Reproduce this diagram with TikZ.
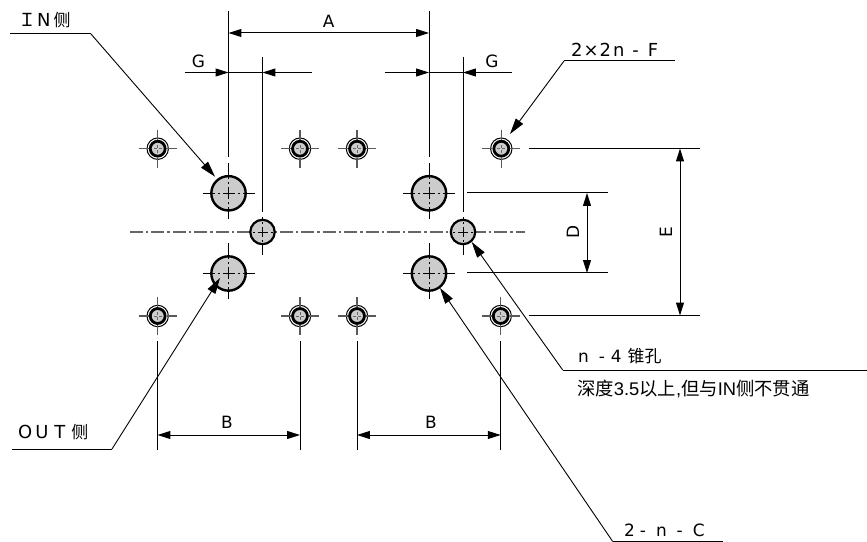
\documentclass[tikz,border=0pt]{standalone}
\usepackage{fontspec}
\setmainfont{DejaVu Sans}
\newfontfamily\cjk{Noto Sans CJK SC}
\newfontfamily\arialish{Liberation Sans}
\usetikzlibrary{arrows.meta,calc}
\tikzset{
  dim/.style={line width=1bp,{Triangle[length=13pt,width=8pt]}-{Triangle[length=13pt,width=8pt]}},
  onetip/.style={line width=1bp,-{Triangle[length=13pt,width=8pt]}},
  leader/.style={line width=0.9bp,-{Triangle[length=16pt,width=9pt]}},
  ext/.style={line width=1bp},
  shelf/.style={line width=1bp},
  cl/.style={line width=0.9bp},
  mainaxis/.style={line width=1.5bp,color=black!60,dash pattern=on 13pt off 3pt on 2.5pt off 3pt},
  lbl/.style={inner sep=0pt,font=\fontsize{17}{19}\selectfont},
  tlbl/.style={inner sep=0pt,anchor=west,font=\fontsize{18}{20}\selectfont},
  bighole/.style={circle,draw,line width=2.4pt,fill=black!20,minimum size=34.5pt,inner sep=0pt},
  midhole/.style={circle,draw,line width=2.2pt,fill=black!20,minimum size=24.5pt,inner sep=0pt},
  smallouter/.style={circle,draw,line width=1bp,fill=white,minimum size=21.5pt,inner sep=0pt},
  smallinner/.style={circle,draw,line width=2.8pt,fill=black!20,minimum size=15pt,inner sep=0pt},
}
\newcommand{\holecross}[2]{%
  \foreach \sx/\sy in {1/0,-1/0,0/1}{
    \draw[cl] ($(#1)+(\sx*#2,\sy*#2)$) -- ($(#1)+(\sx*14,\sy*14)$);
    \draw[cl] ($(#1)+(\sx*11,\sy*11)$) -- ($(#1)+(\sx*9,\sy*9)$);
    \draw[cl] (#1) -- ($(#1)+(\sx*6,\sy*6)$);
  }
  \draw[cl] ($(#1)+(0,-30)$) -- ($(#1)+(0,-14)$);
  \draw[cl] ($(#1)+(0,-11)$) -- ($(#1)+(0,-9)$);
  \draw[cl] (#1) -- ($(#1)+(0,-6)$);
}
\newcommand{\midcross}[1]{%
  \foreach \sx/\sy in {1/0,-1/0,0/1,0/-1}{
    \draw[cl] (#1) -- ($(#1)+(\sx*5,\sy*5)$);
    \draw[cl] ($(#1)+(\sx*8,\sy*8)$) -- ($(#1)+(\sx*10,\sy*10)$);
  }}
\newcommand{\smallcross}[1]{%
  \foreach \sx/\sy in {1/0,-1/0,0/1,0/-1}{
    \draw[line width=1.2bp,black!65] ($(#1)+(\sx*19,\sy*19)$) -- ($(#1)+(\sx*9,\sy*9)$);
    \draw[line width=0.7bp,black!60] ($(#1)+(\sx*1,\sy*1)$) -- ($(#1)+(\sx*4,\sy*4)$);
  }}
\begin{document}
\begin{tikzpicture}[x=1bp,y=-1bp]
\useasboundingbox (0,0) rectangle (867,542);
% reference points
\coordinate (cA) at (228.5,193.3);
\coordinate (cB) at (429,193.3);
\coordinate (cC) at (228.5,273.5);
\coordinate (cD) at (429,273.5);
\coordinate (mL) at (262.5,232);
\coordinate (mR) at (463,232);
\coordinate (s1) at (157.7,148.7);
\coordinate (s2) at (300,148.7);
\coordinate (s3) at (357,148.7);
\coordinate (s4) at (501.3,148.7);
\coordinate (s5) at (157.7,316);
\coordinate (s6) at (300,316);
\coordinate (s7) at (357,316);
\coordinate (s8) at (500.7,316);
% main axis
\coordinate (axL) at (130,232);
\coordinate (axR) at (525,232);
\draw[mainaxis] (axL) -- (axR);
% extension lines
\coordinate (a1) at (228.5,11);
\coordinate (a1b) at (228.5,157);
\coordinate (a2) at (429,11);
\coordinate (a2b) at (429,157);
\coordinate (g1) at (262.5,57);
\coordinate (g1b) at (262.5,212.5);
\coordinate (g2) at (463,57);
\coordinate (g2b) at (463,212.5);
\draw[ext] (a1) -- (a1b);
\draw[ext] (a2) -- (a2b);
\draw[ext] (g1) -- (g1b);
\draw[ext] (g2) -- (g2b);
% holes
\foreach \n/\p in {hA/cA,hB/cB,hC/cC,hD/cD}{
  \node[bighole] (\n) at (\p) {};
  \holecross{\p}{26}
}
\foreach \n/\p in {hL/mL,hR/mR}{
  \draw[cl] ($(\p)+(0,-15)$) -- ($(\p)+(0,23.5)$);
  \node[midhole] (\n) at (\p) {};
  \midcross{\p}
}
\foreach \n/\p in {h1/s1,h2/s2,h3/s3,h4/s4,h5/s5,h6/s6,h7/s7,h8/s8}{
  \node[smallouter] (\n o) at (\p) {};
  \node[smallinner] (\n) at (\p) {};
  \smallcross{\p}
}
% dimension A
\draw[dim] (228.5,33) -- node[lbl,above=5pt] (lA) {A} (429,33);
% dimension G
\coordinate (gL1) at (185,72.5);
\coordinate (gL2) at (312,72.5);
\coordinate (gR1) at (385,72.5);
\coordinate (gR2) at (512,72.5);
\draw[onetip] (gL1) -- (228.5,72.5);
\draw[onetip] (gL2) -- (262.5,72.5);
\draw[ext] (228.5,72.5) -- (262.5,72.5);
\draw[onetip] (gR1) -- (429,72.5);
\draw[onetip] (gR2) -- (463,72.5);
\draw[ext] (429,72.5) -- (463,72.5);
\node[lbl] (lG1) at (198.5,61) {G};
\node[lbl] (lG2) at (492,61) {G};
% dimensions D and E
\draw[ext] (467,193) -- (608,193);
\draw[ext] (467,273) -- (608,273);
\draw[ext] (529,148.5) -- (700,148.5);
\draw[ext] (529,315.5) -- (700,315.5);
\draw[dim] (587,193) -- (587,273);
\draw[dim] (680,148.5) -- (680,315.5);
\node[lbl,rotate=90] (lD) at (573,232) {D};
\node[lbl,rotate=90] (lE) at (666,232) {E};
% dimensions B
\draw[ext] (157.5,341) -- (157.5,450);
\draw[ext] (300,341) -- (300,450);
\draw[ext] (357,341) -- (357,450);
\draw[ext] (500.7,341) -- (500.7,450);
\draw[dim] (157.5,435) -- (300,435);
\draw[dim] (357,435) -- (500.7,435);
\node[lbl] (lB1) at (227,422) {B};
\node[lbl] (lB2) at (431,422) {B};
% leaders
\coordinate (inA) at (10,34);
\coordinate (inB) at (91,34);
\draw[shelf] (inA) -- (inB);
\draw[leader] (inB) -- (215,176.7);
\node[tlbl] (tIN) at (18,20) {{\cjk Ｉ}\hspace{1pt}N\hspace{3pt}{\cjk\fontsize{17}{19}\selectfont 侧}};
\coordinate (outA) at (12,449);
\coordinate (outB) at (112,449);
\draw[shelf] (outA) -- (outB);
\draw[leader] (outB) -- (220,278);
\node[tlbl] (tOUT) at (18,432) {O\hspace{3pt}U\hspace{6pt}T\hspace{6pt}{\cjk\fontsize{17}{19}\selectfont 侧}};
\coordinate (fA) at (675,61);
\coordinate (fB) at (564,61);
\draw[shelf] (fA) -- (fB);
\draw[leader] (fB) -- (510,134);
\node[tlbl] (tF) at (571,50) {2\hspace{1pt}×\hspace{1pt}2\hspace{2pt}n\hspace{8pt}-\hspace{9pt}F};
\coordinate (nA) at (867,370);
\coordinate (nB) at (562.7,370);
\draw[shelf] (nA) -- (nB);
\draw[leader] (nB) -- (471.7,242);
\node[tlbl,font=\fontsize{17}{19}\selectfont] (tN) at (578,356) {n\hspace{10pt}-\hspace{6pt}4\hspace{6pt}{\cjk 锥孔}};
\node[anchor=west,inner sep=0pt,font=\fontsize{18.4}{20}\selectfont\arialish] (tDepth) at (577,389) {{\cjk 深度}3.5{\cjk 以上},{\cjk 但与}IN{\cjk 侧不贯通}};
\coordinate (cA1) at (723,541.5);
\coordinate (cB1) at (612.7,541.5);
\draw[shelf] (cA1) -- (cB1);
\draw[leader] (cB1) -- (440,288);
\node[tlbl,font=\fontsize{17}{19}\selectfont] (tC) at (624,530) {2\hspace{5pt}-\hspace{10pt}n\hspace{10pt}-\hspace{10pt}C};
\end{tikzpicture}
\end{document}
